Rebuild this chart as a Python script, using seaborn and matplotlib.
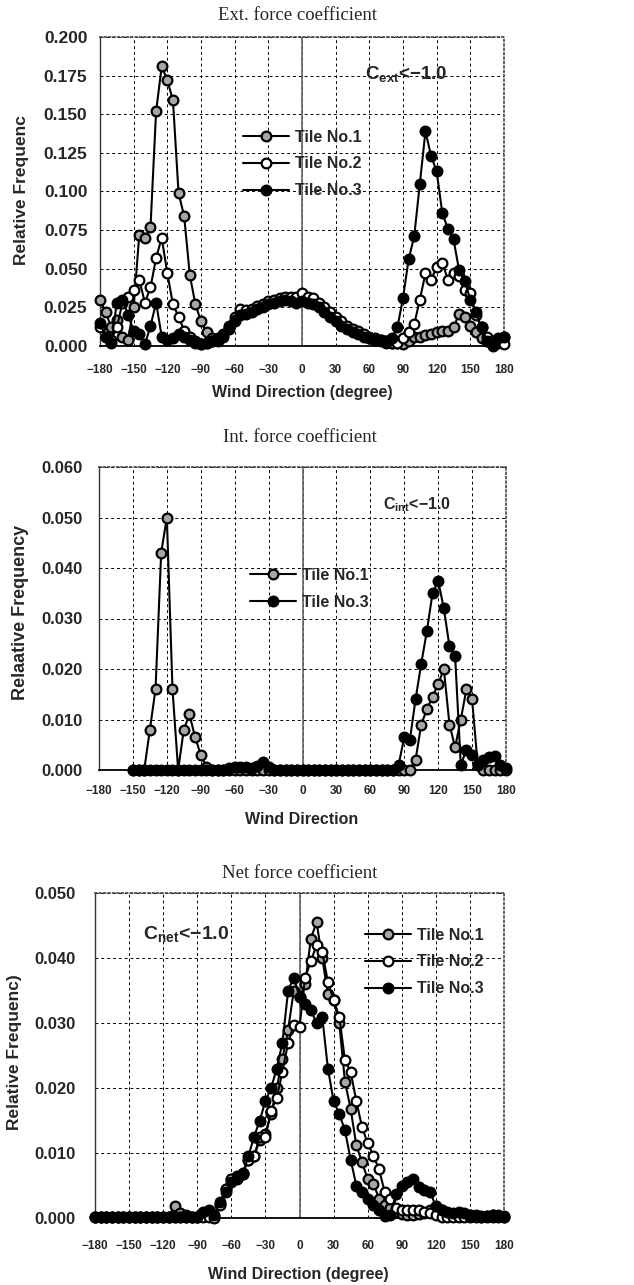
import numpy as np
import pandas as pd
import matplotlib
matplotlib.use('Agg')
import matplotlib.pyplot as plt
import seaborn as sns
from matplotlib.ticker import FormatStrFormatter

# ---------------- data ----------------
directions = list(range(-180, 181, 5))       # Ext / Net panels
directions_int = list(range(-150, 181, 5))   # Int panel

ext_tile1 = [0.030, 0.022, 0.012, 0.017, 0.006, 0.004, 0.025, 0.072, 0.070, 0.077,
             0.152, 0.181, 0.172, 0.159, 0.099, 0.084, 0.046, 0.027, 0.016, 0.009,
             0.005, 0.003, 0.006, 0.011, 0.016, 0.021, 0.022, 0.023, 0.025, 0.026,
             0.028, 0.029, 0.030, 0.031, 0.030, 0.030, 0.031, 0.030, 0.029, 0.027,
             0.024, 0.021, 0.018, 0.015, 0.012, 0.010, 0.009, 0.007, 0.005, 0.004,
             0.004, 0.003, 0.002, 0.002, 0.001, 0.003, 0.006, 0.006, 0.007, 0.008,
             0.009, 0.010, 0.010, 0.012, 0.021, 0.019, 0.013, 0.009, 0.005, 0.003,
             0.002, 0.004, 0.006]
ext_tile2 = [0.012, 0.006, 0.004, 0.012, 0.028, 0.032, 0.036, 0.043, 0.028, 0.038,
             0.057, 0.070, 0.047, 0.027, 0.019, 0.010, 0.006, 0.003, 0.001, 0.002,
             0.003, 0.005, 0.008, 0.013, 0.019, 0.024, 0.023, 0.024, 0.026, 0.027,
             0.029, 0.030, 0.031, 0.032, 0.032, 0.032, 0.034, 0.032, 0.031, 0.028,
             0.025, 0.022, 0.019, 0.016, 0.013, 0.011, 0.010, 0.008, 0.006, 0.005,
             0.004, 0.003, 0.002, 0.002, 0.005, 0.009, 0.014, 0.030, 0.047, 0.043,
             0.051, 0.054, 0.043, 0.047, 0.045, 0.036, 0.034, 0.020, 0.012, 0.006,
             0.003, 0.002, 0.001]
ext_tile3 = [0.015, 0.006, 0.002, 0.028, 0.030, 0.020, 0.010, 0.008, 0.001, 0.013,
             0.028, 0.006, 0.004, 0.005, 0.008, 0.006, 0.004, 0.002, 0.001, 0.002,
             0.003, 0.004, 0.007, 0.012, 0.017, 0.020, 0.021, 0.022, 0.024, 0.025,
             0.027, 0.028, 0.029, 0.030, 0.029, 0.028, 0.029, 0.028, 0.027, 0.025,
             0.022, 0.019, 0.016, 0.013, 0.011, 0.009, 0.008, 0.006, 0.005, 0.004,
             0.003, 0.002, 0.005, 0.012, 0.031, 0.056, 0.071, 0.105, 0.139, 0.123,
             0.113, 0.086, 0.076, 0.069, 0.049, 0.042, 0.030, 0.022, 0.012, 0.003,
             0.000, 0.005, 0.006]

# -150 ... 180 step 5 (67 values)
int_tile1 = [0.0, 0.0, 0.0, 0.008, 0.016, 0.043, 0.050, 0.016, 0.0, 0.008,      # -150..-105
             0.011, 0.0065, 0.003, 0.0005, 0.0, 0.0, 0.0, 0.0, 0.0, 0.0,        # -100..-55
             0.0, 0.0, 0.0, 0.0, 0.0, 0.0, 0.0, 0.0, 0.0, 0.0,                  # -50..-5
             0.0, 0.0, 0.0, 0.0, 0.0, 0.0, 0.0, 0.0, 0.0, 0.0,                  # 0..45
             0.0, 0.0, 0.0, 0.0, 0.0, 0.0, 0.0, 0.0, 0.0, 0.0,                  # 50..95
             0.002, 0.009, 0.012, 0.0145, 0.017, 0.020, 0.009, 0.0045, 0.010, 0.016,  # 100..145
             0.014, 0.001, 0.0, 0.0, 0.0, 0.0, 0.0]                              # 150..180
int_tile3 = [0.0, 0.0, 0.0, 0.0, 0.0, 0.0, 0.0, 0.0, 0.0, 0.0,                  # -150..-105
             0.0, 0.0, 0.0, 0.0, 0.0, 0.0, 0.0, 0.0003, 0.0005, 0.0005,         # -100..-55
             0.0005, 0.0003, 0.0008, 0.0016, 0.0005, 0.0, 0.0, 0.0, 0.0, 0.0,   # -50..-5
             0.0, 0.0, 0.0, 0.0, 0.0, 0.0, 0.0, 0.0, 0.0, 0.0,                  # 0..45
             0.0, 0.0, 0.0, 0.0, 0.0, 0.0, 0.0, 0.001, 0.0065, 0.006,           # 50..95
             0.014, 0.021, 0.0275, 0.035, 0.0375, 0.032, 0.0245, 0.0225, 0.001, 0.004,  # 100..145
             0.003, 0.001, 0.002, 0.0025, 0.0028, 0.001, 0.0003]                # 150..180

net_tile1 = [0.0002, 0.0002, 0.0002, 0.0002, 0.0002, 0.0002, 0.0002, 0.0002, 0.0002, 0.0002,
             0.0002, 0.0002, 0.0002, 0.0002, 0.0019, 0.0008, 0.0004, 0.0002, 0.0002, 0.0008,
             0.0006, 0.0003, 0.0022, 0.0045, 0.006, 0.0065, 0.0068, 0.009, 0.0095, 0.012,
             0.013, 0.016, 0.020, 0.0245, 0.029, 0.035, 0.034, 0.036, 0.043, 0.0455,
             0.040, 0.0345, 0.0335, 0.030, 0.021, 0.0168, 0.0112, 0.0086, 0.006, 0.0053,
             0.003, 0.002, 0.0015, 0.001, 0.0006, 0.0005, 0.0005, 0.0006, 0.0008, 0.0012,
             0.0015, 0.0012, 0.0008, 0.0005, 0.0005, 0.0006, 0.0004, 0.0003, 0.0002, 0.0003,
             0.0004, 0.0003, 0.0002]
net_tile2 = [0.0002, 0.0002, 0.0002, 0.0002, 0.0002, 0.0002, 0.0002, 0.0002, 0.0002, 0.0002,
             0.0002, 0.0002, 0.0002, 0.0002, 0.0002, 0.0002, 0.0002, 0.0002, 0.0002, 0.0002,
             0.0002, 0.0, 0.002, 0.0045, 0.006, 0.006, 0.007, 0.009, 0.0095, 0.0125,
             0.0125, 0.0165, 0.0185, 0.0225, 0.027, 0.0297, 0.0294, 0.037, 0.0395, 0.042,
             0.041, 0.0363, 0.0335, 0.031, 0.0243, 0.0225, 0.018, 0.014, 0.0115, 0.0096,
             0.0075, 0.004, 0.003, 0.0015, 0.0012, 0.0012, 0.0012, 0.0013, 0.001, 0.0008,
             0.0005, 0.0002, 0.0002, 0.0002, 0.0002, 0.0002, 0.0002, 0.0002, 0.0002, 0.0002,
             0.0002, 0.0002, 0.0002]
net_tile3 = [0.0002, 0.0002, 0.0002, 0.0002, 0.0002, 0.0002, 0.0002, 0.0002, 0.0002, 0.0002,
             0.0002, 0.0002, 0.0002, 0.0002, 0.0002, 0.0002, 0.0002, 0.0002, 0.0002, 0.0010,
             0.0012, 0.0005, 0.0025, 0.004, 0.0055, 0.0062, 0.0068, 0.0095, 0.0125, 0.015,
             0.018, 0.020, 0.023, 0.027, 0.035, 0.037, 0.034, 0.033, 0.032, 0.030,
             0.031, 0.023, 0.018, 0.016, 0.0135, 0.009, 0.005, 0.004, 0.003, 0.002,
             0.0012, 0.0003, 0.0005, 0.0037, 0.005, 0.0055, 0.006, 0.0048, 0.0043, 0.004,
             0.0018, 0.0012, 0.001, 0.0008, 0.001, 0.0008, 0.0005, 0.0004, 0.0003, 0.0003,
             0.0005, 0.0004, 0.0003]

tile_names = ['Tile No.1', 'Tile No.2', 'Tile No.3']
x_ticks = list(range(-180, 181, 30))

# ---------------- style ----------------
sns.set_theme(style='white')
plt.rcParams['font.family'] = ['Liberation Sans', 'DejaVu Sans']
plt.rcParams['mathtext.fontset'] = 'custom'
plt.rcParams['mathtext.rm'] = 'Liberation Sans:bold'
plt.rcParams['mathtext.bf'] = 'Liberation Sans:bold'
plt.rcParams['axes.unicode_minus'] = True

W, H = 634, 1285
fig = plt.figure(figsize=(W / 100, H / 100), dpi=100)

face = {'Tile No.1': '#a6a6a6', 'Tile No.2': 'white', 'Tile No.3': 'black'}


def make_axes(left, top, right, bottom):
    return fig.add_axes([left / W, 1 - bottom / H, (right - left) / W, (bottom - top) / H])


panels = [
    dict(box=(100, 37, 504, 346), x=directions,
         series=[('Tile No.1', ext_tile1), ('Tile No.2', ext_tile2), ('Tile No.3', ext_tile3)],
         ymax=0.2, ystep=0.025, title='Ext. force coefficient', title_xy=(297, 15),
         ylabel='Relative Frequenc', ylabel_xy=(22, 190), yfs=12.5,
         xlabel='Wind Direction (degree)', xlabel_xy=(302, 393),
         ytickfs=12.5, ypad=9, xpad=13,
         ann='C$_{\\mathrm{ext}}$<\u22121.0', ann_xy=(365, 75), ann_fs=13.5,
         leg_xy=(243, 164)),
    dict(box=(99, 467, 506, 770), x=directions_int,
         series=[('Tile No.1', int_tile1), ('Tile No.3', int_tile3)],
         ymax=0.06, ystep=0.01, title='Int. force coefficient', title_xy=(300, 437),
         ylabel='Relaative Frequency', ylabel_xy=(21, 612), yfs=13,
         xlabel='Wind Direction', xlabel_xy=(302, 820),
         ytickfs=12, ypad=12, xpad=11,
         ann='C$_{\\mathrm{int}}$<\u22121.0', ann_xy=(383, 505), ann_fs=11.5,
         leg_xy=(250, 589)),
    dict(box=(95, 893, 504, 1218), x=directions,
         series=[('Tile No.1', net_tile1), ('Tile No.2', net_tile2), ('Tile No.3', net_tile3)],
         ymax=0.05, ystep=0.01, title='Net force coefficient', title_xy=(300, 873),
         ylabel='Relative Frequenc)', ylabel_xy=(15, 1052), yfs=12.5,
         xlabel='Wind Direction (degree)', xlabel_xy=(298, 1275),
         ytickfs=12, ypad=14, xpad=16,
         ann='C$_{\\mathrm{net}}$<\u22121.0', ann_xy=(143, 935), ann_fs=14,
         leg_xy=(365, 962)),
]

for p in panels:
    l, t, r, b = p['box']
    ax = make_axes(l, t, r, b)
    for name, vals in p['series']:
        df = pd.DataFrame({'dir': p['x'], 'freq': vals})
        sns.lineplot(data=df, x='dir', y='freq', ax=ax, color='black', linewidth=1.5,
                     marker='o', markersize=7, markerfacecolor=face[name],
                     markeredgecolor='black', markeredgewidth=1.6, label=name,
                     errorbar=None, sort=False, clip_on=False, zorder=3)
    ax.set_xlim(-180, 180)
    ax.set_ylim(0, p['ymax'])
    ax.set_xticks(x_ticks)
    yt = np.arange(0, p['ymax'] + 1e-9, p['ystep'])
    ax.set_yticks(yt)
    ax.yaxis.set_major_formatter(FormatStrFormatter('%.3f'))
    ax.tick_params(axis='both', length=0)
    ax.tick_params(axis='x', labelsize=8.5, pad=p['xpad'])
    ax.tick_params(axis='y', labelsize=p['ytickfs'], pad=p['ypad'])
    for lab in ax.get_xticklabels() + ax.get_yticklabels():
        lab.set_fontweight('bold')
    ax.grid(True, color='black', linestyle=(0, (3, 3)), linewidth=0.7)
    ax.axvline(0, color='#666666', linewidth=1.2, zorder=1.5)
    for side in ('top', 'right'):
        ax.spines[side].set_color('#444444')
        ax.spines[side].set_linestyle(':')
        ax.spines[side].set_linewidth(1.2)
    ax.spines['left'].set_color('#333333')
    ax.spines['left'].set_linewidth(1.0)
    ax.spines['bottom'].set_color('black')
    ax.spines['bottom'].set_linewidth(1.3)
    ax.set_facecolor('white')

    ax.set_xlabel(p['xlabel'], fontsize=11.5, fontweight='bold')
    ax.xaxis.set_label_coords(p['xlabel_xy'][0] / W, 1 - p['xlabel_xy'][1] / H,
                              transform=fig.transFigure)
    ax.xaxis.label.set_va('center')
    ax.set_ylabel(p['ylabel'], fontsize=p['yfs'], fontweight='bold')
    ax.yaxis.set_label_coords(p['ylabel_xy'][0] / W, 1 - p['ylabel_xy'][1] / H,
                              transform=fig.transFigure)
    ax.yaxis.label.set_va('center')

    fig.text(p['title_xy'][0] / W, 1 - p['title_xy'][1] / H, p['title'],
             family='Liberation Serif', fontsize=13.5, ha='center', va='center')
    fig.text(p['ann_xy'][0] / W, 1 - p['ann_xy'][1] / H, p['ann'],
             fontsize=p['ann_fs'], fontweight='bold', ha='left', va='center')

    lx = (p['leg_xy'][0] - l) / (r - l)
    ly = 1 - (p['leg_xy'][1] - t) / (b - t)
    ax.legend(loc='center left', bbox_to_anchor=(lx, ly), frameon=False,
              handlelength=2.9, handletextpad=0.35, labelspacing=0.75,
              borderpad=0, borderaxespad=0,
              prop={'weight': 'bold', 'size': 11.5})

fig.savefig('out.png', dpi=100, facecolor='white')
